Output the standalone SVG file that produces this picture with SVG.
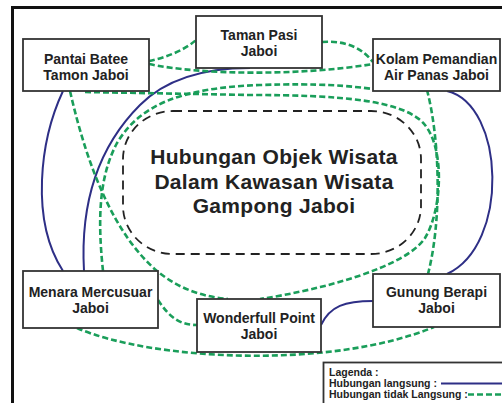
<svg xmlns="http://www.w3.org/2000/svg" width="502" height="403" viewBox="0 0 502 403">
<style>
  .box { fill: #ffffff; stroke: #333333; stroke-width: 1.8; }
  .lbl { font-family: "Liberation Sans", Arial, sans-serif; font-weight: bold; font-size: 14px; fill: #222222; text-anchor: middle; }
  .title { font-family: "Liberation Sans", Arial, sans-serif; font-weight: bold; font-size: 21px; letter-spacing: 0.3px; fill: #222222; text-anchor: middle; }
  .leg { font-family: "Liberation Sans", Arial, sans-serif; font-weight: bold; font-size: 10.5px; fill: #222222; }
  .direct { fill: none; stroke: #2e2f86; stroke-width: 2; }
  .indirect { fill: none; stroke: #1a9e5a; stroke-width: 2.6; stroke-dasharray: 6 3; }
</style>
<rect x="0" y="0" width="502" height="403" fill="#ffffff"/>
<rect x="12.5" y="7.5" width="500" height="410" fill="none" stroke="#111111" stroke-width="3"/>

<g id="centre">
  <rect x="123" y="111" width="298" height="143" rx="50" ry="48" fill="none" stroke="#222222" stroke-width="1.8" stroke-dasharray="9 6"/>
  <text class="title" x="274" y="164">Hubungan Objek Wisata</text>
  <text class="title" x="274" y="189">Dalam Kawasan Wisata</text>
  <text class="title" x="274" y="213">Gampong Jaboi</text>
</g>

<g id="connectors">
  <path class="direct" d="M63,91 C40,140 30,220 63,271"/>
  <path class="direct" d="M250,68 C200,68 165,80 140,105 C100,145 80,200 84,271"/>
  <path class="direct" d="M447,91 C505,105 510,245 447,274"/>
  <path class="direct" d="M321,325 C330,306 345,301 373,301"/>
  <path class="indirect" d="M149,61 C165,58 185,50 196,40"/>
  <path class="indirect" d="M149,64 C200,75 300,76 373,64"/>
  <path class="indirect" d="M322,42 C345,40 362,48 373,62"/>
  <path class="indirect" d="M85,92 L250,95 C340,95 405,100 425,125 C445,150 442,210 425,238 C405,268 320,290 260,299"/>
  <path class="indirect" d="M103,271 C97,215 100,175 117,143 C140,105 180,88 260,85 C320,83 350,86 373,89 L427,90 C440,140 442,220 428,274"/>
  <path class="indirect" d="M70,91 C88,170 115,235 157,271 C180,290 205,297 228,299"/>
  <path class="indirect" d="M158,300 C170,318 180,325 197,325"/>
  <path class="indirect" d="M77,328 C150,360 330,370 434,327"/>
</g>

<g id="pantai">
  <rect class="box" x="23" y="39" width="126" height="52"/>
  <text class="lbl" x="86" y="64">Pantai Batee</text>
  <text class="lbl" x="86" y="80">Tamon Jaboi</text>
</g>
<g id="taman">
  <rect class="box" x="196" y="16" width="126" height="52"/>
  <text class="lbl" x="259" y="40">Taman Pasi</text>
  <text class="lbl" x="259" y="56">Jaboi</text>
</g>
<g id="kolam">
  <rect class="box" x="373" y="39" width="127" height="52"/>
  <text class="lbl" x="436.5" y="64">Kolam Pemandian</text>
  <text class="lbl" x="436.5" y="80">Air Panas Jaboi</text>
</g>
<g id="menara">
  <rect class="box" x="23" y="271" width="135" height="57"/>
  <text class="lbl" x="90.5" y="297">Menara Mercusuar</text>
  <text class="lbl" x="90.5" y="313">Jaboi</text>
</g>
<g id="wonderfull">
  <rect class="box" x="197" y="299" width="124" height="53"/>
  <text class="lbl" x="259" y="323">Wonderfull Point</text>
  <text class="lbl" x="259" y="339">Jaboi</text>
</g>
<g id="gunung">
  <rect class="box" x="373" y="274" width="127" height="53"/>
  <text class="lbl" x="436.5" y="297">Gunung Berapi</text>
  <text class="lbl" x="436.5" y="313">Jaboi</text>
</g>

<g id="legend">
  <rect class="box" x="323.5" y="362.5" width="200" height="60"/>
  <text class="leg" x="329" y="376">Lagenda :</text>
  <text class="leg" x="329" y="387">Hubungan langsung :</text>
  <text class="leg" x="329" y="398">Hubungan tidak Langsung :</text>
  <line class="direct" x1="441" y1="383.5" x2="502" y2="383.5"/>
  <line class="indirect" x1="468" y1="394.5" x2="502" y2="394.5"/>
</g>
</svg>
